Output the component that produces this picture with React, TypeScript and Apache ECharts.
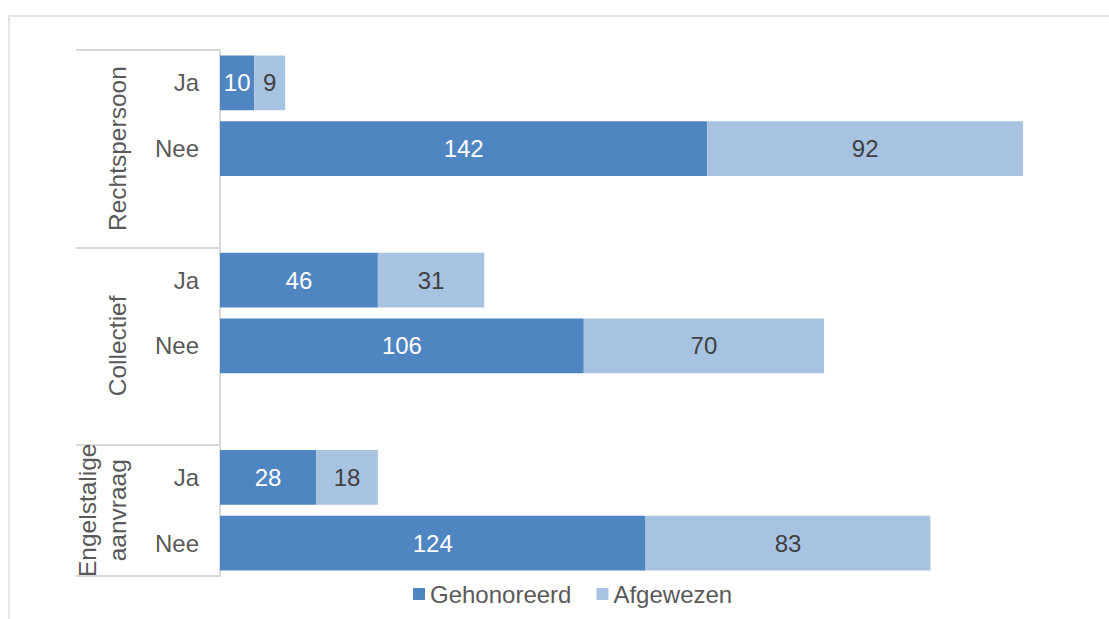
import React, { useEffect, useRef } from "react";
import * as echarts from "echarts";

const subCategories = ["Ja", "Nee", "", "Ja", "Nee", "", "Ja", "Nee"];
const groupNames = ["Rechtspersoon", "Collectief", "Engelstalige\naanvraag"];
const gehonoreerd = [10, 142, null, 46, 106, null, 28, 124];
const afgewezen = [9, 92, null, 31, 70, null, 18, 83];
const seriesNames = ["Gehonoreerd", "Afgewezen"];

const FONT = "'Liberation Sans', Arial, sans-serif";
const TEXT = "#595959";
const AXIS = "#D9D9D9";
const FS = 24;

function groupBounds(): number[][] {
  const bounds: number[][] = [];
  let start = 0;
  subCategories.forEach((c, i) => {
    if (c === "") {
      bounds.push([start, i + 1]);
      start = i + 1;
    }
  });
  bounds.push([start, subCategories.length]);
  return bounds;
}

export default function App() {
  const ref = useRef<HTMLDivElement>(null);
  useEffect(() => {
    if (!ref.current) return;
    const chart = echarts.init(ref.current, null, { renderer: "svg" });
    const bounds = groupBounds();
    const tickVals = [0, ...bounds.map((b) => b[1])];
    const labelVals = bounds.map((b) => (b[0] + b[1]) / 2);
    chart.setOption({
      animation: false,
      textStyle: { fontFamily: FONT },
      graphic: [
        {
          type: "rect",
          shape: { x: 9, y: 16, width: 1200, height: 700 },
          style: { fill: "none", stroke: "#E6E6E6", lineWidth: 2 },
          silent: true,
        },
      ],
      legend: {
        left: 408,
        top: 577,
        icon: "rect",
        itemWidth: 12,
        itemHeight: 12,
        itemGap: 25,
        textStyle: { color: TEXT, fontSize: FS, fontFamily: FONT },
        data: seriesNames,
      },
      grid: { left: 220, right: 31, top: 50, bottom: 43, containLabel: false },
      xAxis: {
        type: "value",
        min: 0,
        max: 250,
        show: false,
      },
      yAxis: [
        {
          type: "category",
          inverse: true,
          data: subCategories,
          axisLine: { show: true, lineStyle: { color: AXIS, width: 2 } },
          axisTick: { show: false },
          axisLabel: {
            interval: 0,
            margin: 21,
            color: TEXT,
            fontSize: FS,
            fontFamily: FONT,
          },
        },
        {
          type: "value",
          inverse: true,
          min: 0,
          max: subCategories.length,
          position: "left",
          splitLine: { show: false },
          axisLine: { show: false },
          axisTick: {
            show: true,
            customValues: tickVals,
            length: 144,
            lineStyle: { color: AXIS, width: 2 },
          },
          axisLabel: {
            show: true,
            customValues: labelVals,
            rotate: 90,
            margin: 88,
            color: TEXT,
            fontSize: 24.5,
            lineHeight: 30,
            fontFamily: FONT,
            formatter: (v: number) => {
              const idx = labelVals.indexOf(v);
              return idx >= 0 ? groupNames[idx] : "";
            },
          },
        },
      ],
      series: [
        {
          name: seriesNames[0],
          type: "bar",
          stack: "total",
          yAxisIndex: 0,
          data: gehonoreerd,
          barCategoryGap: "17%",
          itemStyle: { color: "#4F85C1" },
          label: {
            show: true,
            position: "inside",
            color: "#FFFFFF",
            fontSize: FS,
            fontFamily: FONT,
          },
        },
        {
          name: seriesNames[1],
          type: "bar",
          stack: "total",
          yAxisIndex: 0,
          data: afgewezen,
          barCategoryGap: "17%",
          itemStyle: { color: "#A8C3E2" },
          label: {
            show: true,
            position: "inside",
            color: "#404040",
            fontSize: FS,
            fontFamily: FONT,
          },
        },
      ],
    });
    return () => chart.dispose();
  }, []);
  return (
    <div
      ref={ref}
      style={{ position: "absolute", left: 0, top: 0, width: 1109, height: 619 }}
    />
  );
}
